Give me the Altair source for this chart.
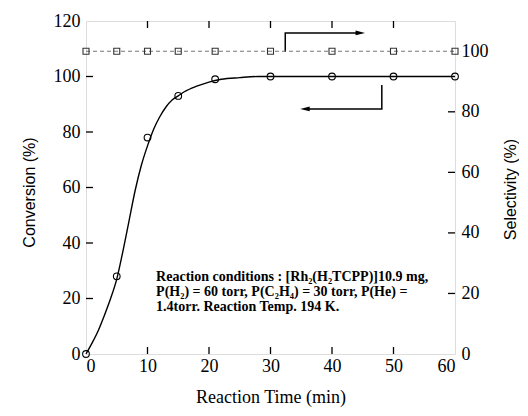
import altair as alt
import pandas as pd

# observed points
t_obs = [0, 5, 10, 15, 21, 30, 40, 50, 60]
conv_obs = [0, 28, 78, 93, 99, 100, 100, 100, 100]
sel_obs = [100, 100, 100, 100, 100, 100, 100, 100, 100]

# smooth conversion curve
t_curve = [0, 1, 2, 3, 4, 5, 6, 7, 8, 9, 10, 11, 12, 13, 14, 15, 16, 18, 20, 22, 25, 28, 30, 40, 50, 60]
conv_curve = [0, 4, 8.5, 14, 20, 27, 37, 48, 59, 68, 75, 81, 85.5, 89, 91.5, 93, 94.5, 96.5, 98, 99, 99.6, 100, 100, 100, 100, 100]

# arrows (data units: minutes, conversion %)
arrow1_t = [32.4, 32.4, 44.2]
arrow1_v = [108.8, 115.7, 115.7]
arrow2_t = [48.1, 48.1, 36.0]
arrow2_v = [96.9, 88.3, 88.3]
heads_t = [44.6, 35.6]
heads_v = [115.7, 88.3]
heads_dir = ["right", "left"]

x_ticks = [10, 20, 30, 40, 50]
left_ticks = [20, 40, 60, 80, 100]
right_ticks = [20, 40, 60, 80]

note_lines = [
    "Reaction conditions : [Rh\u2082(H\u2082TCPP)]10.9 mg,",
    "P(H\u2082) = 60 torr, P(C\u2082H\u2084) = 30 torr, P(He) =",
    "1.4torr. Reaction Temp. 194 K.",
]
note_t = [11.4, 11.4, 11.4]
note_v = [27.7, 22.3, 16.9]

W, H = 369, 333
SERIF = "Liberation Serif"
SANS = "Liberation Sans"

x_axis = alt.Axis(values=[0, 10, 20, 30, 40, 50, 60], title="Reaction Time (min)",
                  ticks=False, tickSize=0, domain=False, grid=False, labelPadding=3,
                  labelFont=SERIF, labelFontSize=18, labelColor="black",
                  titleFont=SERIF, titleFontSize=18, titleFontWeight="normal", titleColor="black",
                  titleY=48, titleBaseline="alphabetic")
x_enc = alt.X("t:Q", scale=alt.Scale(domain=[0, 60], nice=False, zero=False), axis=x_axis)

left_axis = alt.Axis(values=[0, 20, 40, 60, 80, 100, 120], title="Conversion (%)",
                     ticks=False, tickSize=0, domain=False, grid=False, labelPadding=6,
                     labelFont=SERIF, labelFontSize=18, labelColor="black",
                     titleFont=SANS, titleFontSize=16, titleFontWeight="normal", titleColor="black",
                     titleX=-57, titleY=171, titleAngle=270, titleAlign="center", titleBaseline="middle")
yl = alt.Y("v:Q", scale=alt.Scale(domain=[0, 120], nice=False), axis=left_axis)

right_axis = alt.Axis(values=[0, 20, 40, 60, 80, 100], title="Selectivity (%)", orient="right",
                      ticks=False, tickSize=0, domain=False, grid=False, labelPadding=6,
                      labelFont=SERIF, labelFontSize=18, labelColor="black",
                      titleFont=SANS, titleFontSize=16, titleFontWeight="normal", titleColor="black",
                      titleX=55, titleY=168, titleAngle=270, titleAlign="center", titleBaseline="middle")
yr = alt.Y("s:Q", scale=alt.Scale(domain=[0, 110], nice=False), axis=right_axis)

obs_df = pd.DataFrame({"t": t_obs, "v": conv_obs, "s": sel_obs})
curve_df = pd.DataFrame({"t": t_curve, "v": conv_curve})
a1 = pd.DataFrame({"t": arrow1_t, "v": arrow1_v, "o": [0, 1, 2]})
a2 = pd.DataFrame({"t": arrow2_t, "v": arrow2_v, "o": [0, 1, 2]})
heads_df = pd.DataFrame({"t": heads_t, "v": heads_v, "d": heads_dir})
note_df = pd.DataFrame({"t": note_t, "v": note_v, "txt": note_lines})
xt_df = pd.DataFrame({"t": x_ticks})
lt_df = pd.DataFrame({"v": left_ticks})
rt_df = pd.DataFrame({"s": right_ticks})

curve = alt.Chart(curve_df).mark_line(color="black", strokeWidth=1.4, interpolate="monotone").encode(x=x_enc, y=yl)
conv_pts = alt.Chart(obs_df).mark_point(shape="circle", filled=False, color="black", size=45, strokeWidth=1.1, opacity=1).encode(x=x_enc, y=yl)
arr1 = alt.Chart(a1).mark_line(color="black", strokeWidth=1.5).encode(x=x_enc, y=yl, order="o:Q")
arr2 = alt.Chart(a2).mark_line(color="black", strokeWidth=1.5).encode(x=x_enc, y=yl, order="o:Q")
head_r = alt.Chart(heads_df[heads_df.d == "right"]).mark_point(
    shape="M -1 -0.5 L 1 0 L -1 0.5 Z", filled=True, color="black", size=90, opacity=1).encode(x=x_enc, y=yl)
head_l = alt.Chart(heads_df[heads_df.d == "left"]).mark_point(
    shape="M 1 -0.5 L -1 0 L 1 0.5 Z", filled=True, color="black", size=90, opacity=1).encode(x=x_enc, y=yl)
note = alt.Chart(note_df).mark_text(font=SERIF, fontSize=14, fontWeight="bold", align="left",
                                    baseline="middle", color="black").encode(x=x_enc, y=yl, text="txt:N")
top_ticks = alt.Chart(xt_df).mark_rule(color="black", strokeWidth=1.3).encode(x=x_enc, y=alt.value(0), y2=alt.value(7))
bot_ticks = alt.Chart(xt_df).mark_rule(color="black", strokeWidth=1.3).encode(x=x_enc, y=alt.value(H - 7), y2=alt.value(H))
l_ticks = alt.Chart(lt_df).mark_rule(color="black", strokeWidth=1.3).encode(y=yl, x=alt.value(0), x2=alt.value(7))

sel_line = alt.Chart(obs_df).mark_line(color="#777777", strokeWidth=1.1, strokeDash=[4, 3]).encode(x=x_enc, y=yr)
sel_pts = alt.Chart(obs_df).mark_point(shape="square", filled=False, color="#333333", size=36, strokeWidth=1.1, opacity=1).encode(x=x_enc, y=yr)
r_ticks = alt.Chart(rt_df).mark_rule(color="black", strokeWidth=1.3).encode(y=yr, x=alt.value(W - 7), x2=alt.value(W))

left_layer = alt.layer(curve, conv_pts, arr1, arr2, head_r, head_l, note, top_ticks, bot_ticks, l_ticks)
right_layer = alt.layer(sel_line, sel_pts, r_ticks)

chart = alt.layer(left_layer, right_layer).resolve_scale(y="independent").properties(
    width=W, height=H,
    autosize=alt.AutoSizeParams(type="none"),
    padding={"left": 78, "top": 13, "right": 64, "bottom": 54},
).configure_view(stroke="black", strokeWidth=1.5).configure(background="white")

chart.save("out.html", embed_options={"renderer": "svg", "actions": False})
